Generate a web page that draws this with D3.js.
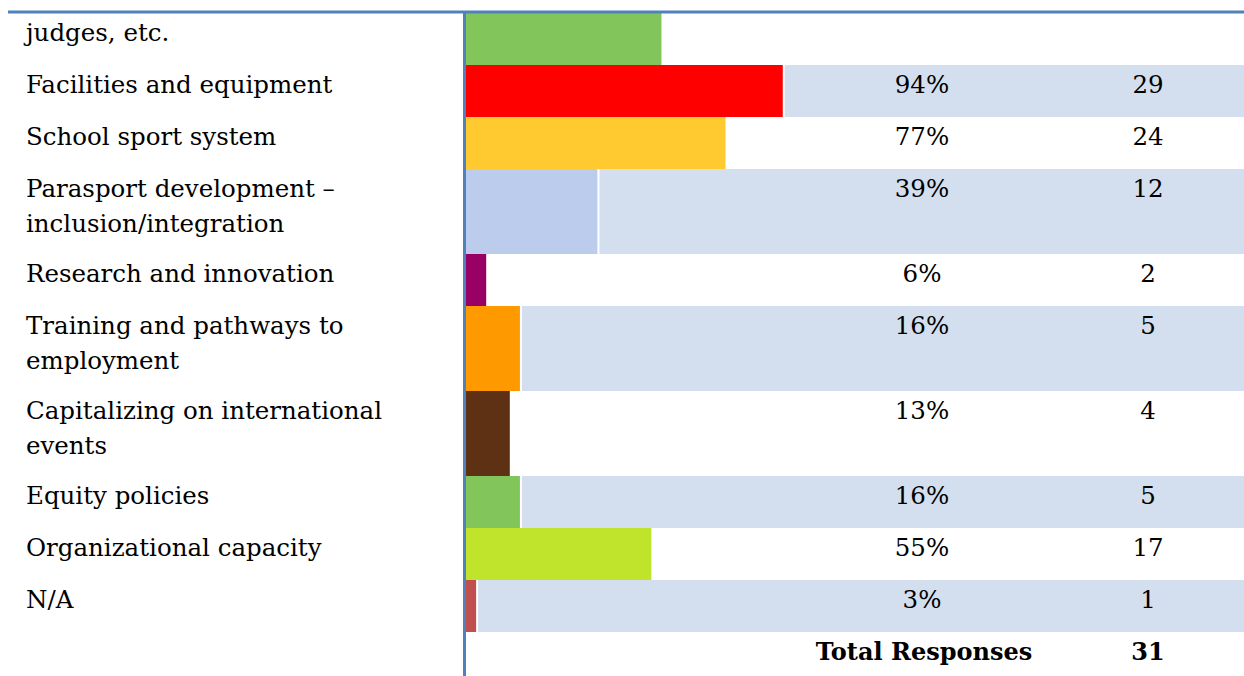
<!DOCTYPE html>
<html>
<head>
<meta charset="utf-8">
<script src="https://cdn.jsdelivr.net/npm/d3@7"></script>
<style>
  body { margin: 0; background: #fff; }
  text { font-family: "DejaVu Serif", "Liberation Serif", serif; fill: #000; }
</style>
</head>
<body>
<div id="chart"></div>
<script>
// Data: categories (label lines), percentages, counts, bar colours
let categories = [
    ["judges, etc."],
    ["Facilities and equipment"],
    ["School sport system"],
    ["Parasport development \u2013", "inclusion/integration"],
    ["Research and innovation"],
    ["Training and pathways to", "employment"],
    ["Capitalizing on international", "events"],
    ["Equity policies"],
    ["Organizational capacity"],
    ["N/A"]
];
let percents = [58, 94, 77, 39, 6, 16, 13, 16, 55, 3];
let counts = [18, 29, 24, 12, 2, 5, 4, 5, 17, 1];
// first row is cut off at the top, its numbers are not visible
let showNumbers = [false, true, true, true, true, true, true, true, true, true];
let colors = ["#82c55b", "#ff0000", "#ffca30", "#bbccec", "#990066",
    "#ff9900", "#5e3114", "#82c55b", "#c0e32b", "#c0504d"];
let totalLabel = "Total Responses", totalCount = 31;

const width = 1244, height = 676;
const band_color = "#d3dfee", line_color = "#4f81bd";
const top_y = 13, axis_x = 466;
const single_row = 52, line_step = 33;
const font_size = "24.5px";

let svg = d3.select("#chart")
    .append("svg")
    .attr("width", width)
    .attr("height", height);

// x scale for the bars (percent of responses)
let x = d3.scaleLinear().domain([0, 100]).range([axis_x, axis_x + 337]);

// compute row tops from number of label lines
let rows = [];
let y = top_y;
categories.forEach(function(c, i) {
    let h = single_row + (c.length - 1) * line_step;
    rows.push({lines: c, pct: percents[i], count: counts[i], color: colors[i],
        show: showNumbers[i], y: y, h: h, band: i % 2 === 1});
    y += h;
});

// light band behind the numbers on alternate rows
svg.append("g")
    .selectAll("rect")
    .data(rows.filter(function(d) { return d.band; }))
    .enter().append("rect")
    .attr("x", function(d) { return x(d.pct) + 2; })
    .attr("y", function(d) { return d.y; })
    .attr("width", function(d) { return width - x(d.pct) - 2; })
    .attr("height", function(d) { return d.h; })
    .attr("fill", band_color);

// bars
svg.append("g")
    .selectAll("rect")
    .data(rows)
    .enter().append("rect")
    .attr("x", x(0))
    .attr("y", function(d) { return d.y; })
    .attr("width", function(d) { return x(d.pct) - x(0); })
    .attr("height", function(d) { return d.h; })
    .attr("fill", function(d) { return d.color; });

// category labels
let labels = svg.append("g")
    .selectAll("text")
    .data(rows)
    .enter().append("text")
    .attr("x", 26)
    .attr("y", function(d) { return d.y + 28; })
    .style("font-size", font_size);
labels.selectAll("tspan")
    .data(function(d) { return d.lines; })
    .enter().append("tspan")
    .attr("x", 26)
    .attr("dy", function(d, i) { return i === 0 ? 0 : 35; })
    .text(function(d) { return d; });

// percent and count columns
let num_rows = rows.filter(function(d) { return d.show; });
svg.append("g")
    .selectAll("text")
    .data(num_rows)
    .enter().append("text")
    .attr("x", 922)
    .attr("y", function(d) { return d.y + 28; })
    .attr("text-anchor", "middle")
    .style("font-size", font_size)
    .text(function(d) { return Math.round(d.pct) + "%"; });
svg.append("g")
    .selectAll("text")
    .data(num_rows)
    .enter().append("text")
    .attr("x", 1148)
    .attr("y", function(d) { return d.y + 28; })
    .attr("text-anchor", "middle")
    .style("font-size", font_size)
    .text(function(d) { return d.count; });

// total row
svg.append("text")
    .attr("x", 924)
    .attr("y", y + 28)
    .attr("text-anchor", "middle")
    .style("font-size", "24px")
    .style("font-weight", "bold")
    .text(totalLabel);
svg.append("text")
    .attr("x", 1148)
    .attr("y", y + 28)
    .attr("text-anchor", "middle")
    .style("font-size", "24px")
    .style("font-weight", "bold")
    .text(totalCount);

// blue frame lines
svg.append("line")
    .attr("x1", 8).attr("x2", width)
    .attr("y1", 12).attr("y2", 12)
    .attr("stroke", line_color)
    .attr("stroke-width", 3);
svg.append("line")
    .attr("x1", axis_x - 1.5).attr("x2", axis_x - 1.5)
    .attr("y1", 11).attr("y2", height)
    .attr("stroke", line_color)
    .attr("stroke-width", 3);
</script>
</body>
</html>
